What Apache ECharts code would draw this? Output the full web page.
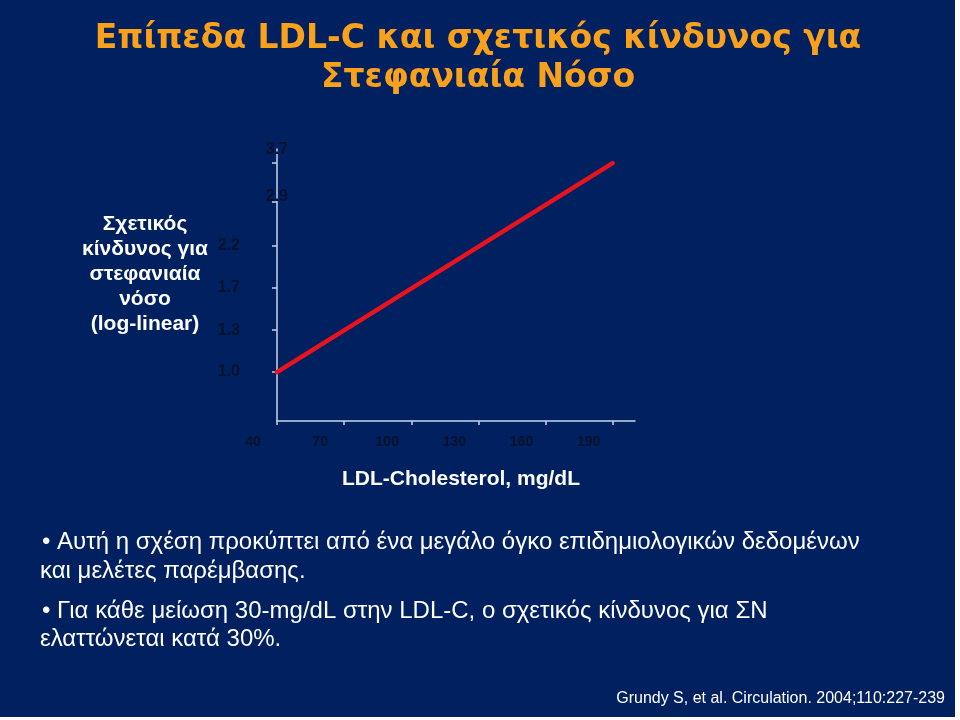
<!DOCTYPE html>
<html>
<head>
<meta charset="utf-8">
<style>
html,body{margin:0;padding:0;background:#ffffff;}
#chart{width:960px;height:720px;}
</style>
<script src="https://cdn.jsdelivr.net/npm/echarts@6/dist/echarts.min.js"></script>
</head>
<body>
<div id="chart"></div>
<script>
// Data
const ldlValues = [40, 70, 100, 130, 160, 190];
const relativeRisk = [1.0, 1.3, 1.7, 2.2, 2.9, 3.7];
const xTickLabels = ['40', '70', '100', '130', '160', '190'];
const yTickLabels = ['1.0', '1.3', '1.7', '2.2', '2.9', '3.7'];
const yLowerTicks = [1.0, 1.3, 1.7, 2.2];
const yUpperTicks = [2.9, 3.7];
// straight log-linear line from lowest to highest LDL
const lineLdl = [40, 190];
const lineRisk = [1.0, 3.7];

const titleText = 'Επίπεδα LDL-C και σχετικός κίνδυνος για\nΣτεφανιαία Νόσο';
const yTitle = 'Σχετικός\nκίνδυνος για\nστεφανιαία\nνόσο\n(log-linear)';
const xTitle = 'LDL-Cholesterol, mg/dL';
const bullet1 = '• Αυτή η σχέση προκύπτει από ένα μεγάλο όγκο επιδημιολογικών δεδομένων';
const bullet1b = 'και μελέτες παρέμβασης.';
const bullet2 = '• Για κάθε μείωση 30-mg/dL στην LDL-C, ο σχετικός κίνδυνος για ΣΝ';
const bullet2b = 'ελαττώνεται κατά 30%.';
const citation = 'Grundy S, et al. Circulation. 2004;110:227-239';

const NAVY = '#00205f';
const AXIS = '#c9d3ea';
const TICKTXT = '#08122e';

function yLabel(v) {
  let best = 0, d = Infinity;
  relativeRisk.forEach((r, i) => { if (Math.abs(r - v) < d) { d = Math.abs(r - v); best = i; } });
  return yTickLabels[best];
}
function xLabel(v) {
  const i = ldlValues.indexOf(v);
  return i >= 0 ? xTickLabels[i] : String(v);
}

const chart = echarts.init(document.getElementById('chart'));
const yMin = 0.736, yMax = 4.04;

chart.setOption({
  backgroundColor: NAVY,
  animation: false,
  grid: { left: 277, right: 325, top: 149, bottom: 299, containLabel: false },
  xAxis: {
    type: 'value',
    min: 40,
    max: 200,
    name: xTitle,
    nameLocation: 'middle',
    nameGap: 48,
    nameTextStyle: { color: '#ffffff', fontFamily: 'Liberation Sans', fontWeight: 'bold', fontSize: 21, padding: [0, 0, 0, 10] },
    axisLine: { show: true, lineStyle: { color: AXIS, width: 1.5 } },
    axisTick: { show: true, length: 4, customValues: ldlValues, lineStyle: { color: AXIS, width: 1.5 } },
    axisLabel: {
      customValues: ldlValues,
      formatter: xLabel,
      color: TICKTXT,
      fontFamily: 'Liberation Sans',
      fontWeight: 'bold',
      fontSize: 14,
      margin: 14,
      padding: [0, 48, 0, 0]
    },
    splitLine: { show: false }
  },
  yAxis: [
    {
      type: 'log',
      logBase: 10,
      min: yMin,
      max: yMax,
      position: 'left',
      axisLine: { show: true, lineStyle: { color: AXIS, width: 1.5 } },
      axisTick: { show: true, length: 5, customValues: relativeRisk, lineStyle: { color: AXIS, width: 1.5 } },
      axisLabel: {
        customValues: yLowerTicks,
        formatter: yLabel,
        color: TICKTXT,
        fontFamily: 'Liberation Sans',
        fontWeight: 'bold',
        fontSize: 16,
        margin: 37
      },
      splitLine: { show: false },
      minorTick: { show: false }
    },
    {
      type: 'log',
      logBase: 10,
      min: yMin,
      max: yMax,
      position: 'left',
      offset: 0,
      axisLine: { show: false },
      axisTick: { show: false },
      axisLabel: {
        customValues: yUpperTicks,
        formatter: function (v) {
          const t = yLabel(v);
          return t === '3.7' ? '{c|' + t + '}' : '{b|' + t + '}';
        },
        color: TICKTXT,
        fontFamily: 'Liberation Sans',
        fontWeight: 'bold',
        fontSize: 16,
        margin: -11,
        rich: {
          b: { color: TICKTXT, fontFamily: 'Liberation Sans', fontWeight: 'bold', fontSize: 16, padding: [0, 0, 10, 0] },
          c: { color: TICKTXT, fontFamily: 'Liberation Sans', fontWeight: 'bold', fontSize: 16, padding: [0, 0, 26, 0] }
        }
      },
      splitLine: { show: false }
    }
  ],
  series: [{
    type: 'line',
    data: lineLdl.map((x, i) => [x, lineRisk[i]]),
    yAxisIndex: 0,
    symbol: 'none',
    lineStyle: { color: '#e8131c', width: 4.5, cap: 'round' },
    silent: true
  }],
  graphic: [
    { type: 'text', x: 478, y: 20, style: { text: titleText, align: 'center', fill: '#f9a11b', font: 'bold 33px "DejaVu Sans"', lineHeight: 39 } },
    { type: 'text', x: 145, y: 212, style: { text: yTitle, align: 'center', fill: '#ffffff', font: 'bold 21px "Liberation Sans"', lineHeight: 25 } },
    { type: 'text', x: 42, y: 530, style: { text: bullet1, fill: '#ffffff', font: '24px "Liberation Sans"' } },
    { type: 'text', x: 40, y: 559, style: { text: bullet1b, fill: '#ffffff', font: '24px "Liberation Sans"' } },
    { type: 'text', x: 42, y: 599, style: { text: bullet2, fill: '#ffffff', font: '24px "Liberation Sans"' } },
    { type: 'text', x: 40, y: 627, style: { text: bullet2b, fill: '#ffffff', font: '24px "Liberation Sans"' } },
    { type: 'text', x: 945, y: 691, style: { text: citation, align: 'right', fill: '#ffffff', font: '16px "Liberation Sans"' } },
    { type: 'rect', shape: { x: 955, y: 0, width: 5, height: 720 }, style: { fill: '#ffffff' } },
    { type: 'rect', shape: { x: 0, y: 717, width: 960, height: 3 }, style: { fill: '#ffffff' } }
  ]
});
</script>
</body>
</html>
